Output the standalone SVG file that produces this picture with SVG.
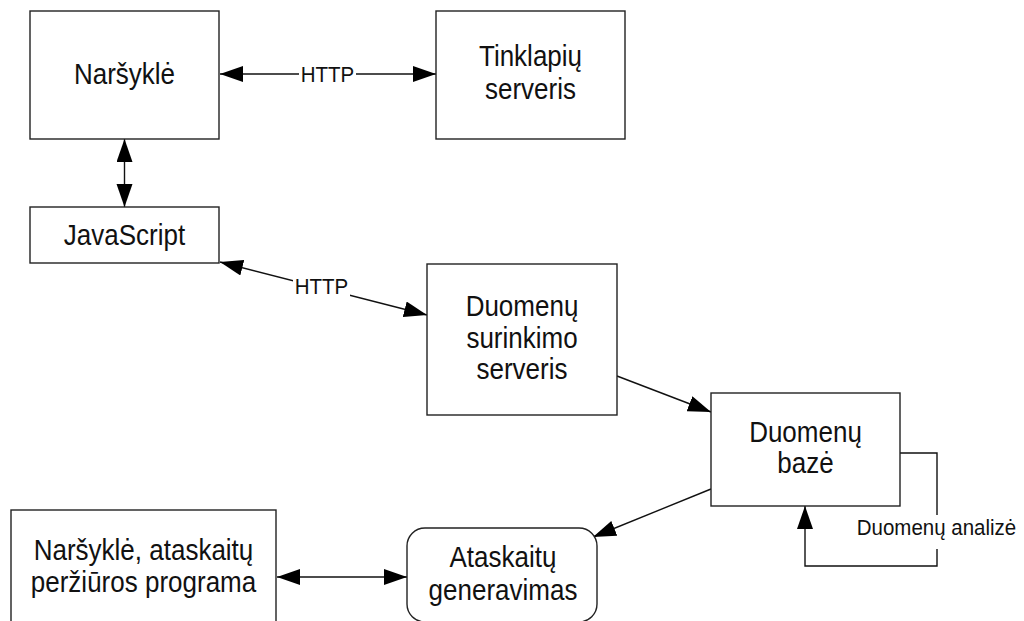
<svg xmlns="http://www.w3.org/2000/svg" width="1024" height="621" viewBox="0 0 1024 621">
  <style>
    .box { fill: #ffffff; stroke: #222222; stroke-width: 1.4; }
    .lbl { font-family: "Liberation Sans", Arial, sans-serif; font-size: 26px; fill: #111111; text-anchor: middle; }
    .small { font-family: "Liberation Sans", Arial, sans-serif; font-size: 20.5px; fill: #111111; text-anchor: middle; }
    .wire { fill: none; stroke: #111111; stroke-width: 1.4; }
    .bg { fill: #ffffff; stroke: none; }
  </style>
  <defs>
    <marker id="arrow" markerUnits="userSpaceOnUse" markerWidth="24" markerHeight="17" refX="23" refY="8" orient="auto-start-reverse">
      <path d="M0,0 L23,8 L0,16 z" fill="#000000"/>
    </marker>
  </defs>

  <rect width="1024" height="621" fill="#ffffff"/>

  <!-- connectors -->
  <g id="connectors">
    <!-- browser <-> web server -->
    <line class="wire" x1="220" y1="74" x2="436" y2="74" marker-start="url(#arrow)" marker-end="url(#arrow)"/>
    <rect class="bg" x="299" y="63" width="57" height="22"/>
    <text class="small" transform="translate(327.5,81.5) scale(1,1.1)">HTTP</text>

    <!-- browser <-> JavaScript -->
    <line class="wire" x1="124.5" y1="139" x2="124.5" y2="207" marker-start="url(#arrow)" marker-end="url(#arrow)"/>

    <!-- JavaScript <-> collection server -->
    <line class="wire" x1="220" y1="262" x2="427" y2="315" marker-start="url(#arrow)" marker-end="url(#arrow)"/>
    <rect class="bg" x="293" y="276" width="57" height="21"/>
    <text class="small" transform="translate(321.5,294) scale(1,1.1)">HTTP</text>

    <!-- collection server -> database -->
    <line class="wire" x1="617" y1="376" x2="711" y2="412" marker-end="url(#arrow)"/>

    <!-- database -> report generation -->
    <line class="wire" x1="711" y1="489" x2="593" y2="537" marker-end="url(#arrow)"/>

    <!-- data analysis loop -->
    <polyline class="wire" points="900,453 937,453 937,566 805,566 805,506" marker-end="url(#arrow)"/>
    <rect class="bg" x="853" y="515" width="168" height="34"/>
    <text class="small" transform="translate(936.5,535) scale(1,1.1)">Duomenų analizė</text>

    <!-- report viewer <-> report generation -->
    <line class="wire" x1="277" y1="577" x2="407" y2="577" marker-start="url(#arrow)" marker-end="url(#arrow)"/>
  </g>

  <!-- nodes -->
  <g id="browser">
    <rect class="box" x="30" y="11" width="189" height="128"/>
    <text class="lbl" transform="translate(124.5,84) scale(1,1.1)">Naršyklė</text>
  </g>

  <g id="web-server">
    <rect class="box" x="436" y="11" width="189" height="128"/>
    <text class="lbl" transform="translate(530.5,66) scale(1,1.1)">Tinklapių</text>
    <text class="lbl" transform="translate(530.5,98.5) scale(1,1.1)">serveris</text>
  </g>

  <g id="javascript">
    <rect class="box" x="30" y="207" width="189" height="56"/>
    <text class="lbl" transform="translate(124.5,245) scale(1,1.1)">JavaScript</text>
  </g>

  <g id="collection-server">
    <rect class="box" x="427" y="264" width="190" height="151"/>
    <text class="lbl" transform="translate(522,316) scale(1,1.1)">Duomenų</text>
    <text class="lbl" transform="translate(522,347.5) scale(1,1.1)">surinkimo</text>
    <text class="lbl" transform="translate(522,379) scale(1,1.1)">serveris</text>
  </g>

  <g id="database">
    <rect class="box" x="711" y="393" width="189" height="113"/>
    <text class="lbl" transform="translate(805.5,441.5) scale(1,1.1)">Duomenų</text>
    <text class="lbl" transform="translate(805.5,472.5) scale(1,1.1)">bazė</text>
  </g>

  <g id="report-viewer">
    <rect class="box" x="11" y="510" width="265" height="130"/>
    <text class="lbl" transform="translate(143.5,560) scale(1,1.1)">Naršyklė, ataskaitų</text>
    <text class="lbl" transform="translate(143.5,591.5) scale(1,1.1)">peržiūros programa</text>
  </g>

  <g id="report-generation">
    <rect class="box" x="407" y="528" width="190" height="94" rx="18" ry="18"/>
    <text class="lbl" transform="translate(503,567) scale(1,1.1)">Ataskaitų</text>
    <text class="lbl" transform="translate(503,600) scale(1,1.1)">generavimas</text>
  </g>
</svg>
